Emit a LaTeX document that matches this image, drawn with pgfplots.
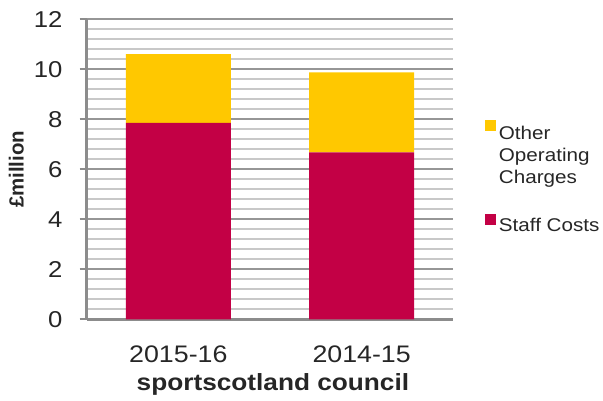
\documentclass[border=0pt]{standalone}
\usepackage{pgfplots}
\pgfplotsset{compat=1.18}
\usepackage{fontspec}
\setmainfont{Liberation Sans}[FakeStretch=1.12]
\newfontfamily\ylabfont{Liberation Sans}
\definecolor{barYellow}{RGB}{255,200,0}
\definecolor{barRed}{RGB}{195,0,69}
\definecolor{axGray}{RGB}{140,140,140}
\definecolor{majGray}{RGB}{150,150,150}
\definecolor{minGray}{RGB}{200,200,200}
\definecolor{txt}{RGB}{38,38,38}
\begin{document}
\begin{tikzpicture}
\useasboundingbox (-86.7bp,-81.7bp) rectangle (516.3bp,319.3bp);
\begin{axis}[
  at={(0,0)}, anchor=south west,
  scale only axis,
  width=366.6bp, height=300bp,
  ybar stacked,
  bar width=0.572,
  xmin=-0.5, xmax=1.5,
  ymin=0, ymax=12,
  xtick={0,1},
  xticklabels={2015-16,2014-15},
  ytick={0,2,4,6,8,10,12},
  minor y tick num=4,
  ymajorgrids, yminorgrids,
  major grid style={majGray, line width=1.8bp},
  minor grid style={minGray, line width=1.8bp},
  axis x line*=bottom,
  axis y line*=left,
  axis line style={axGray, line width=2.6bp},
  x axis line style={-},
  y axis line style={-},
  xtick style={draw=none},
  ytick style={axGray, line width=1.8bp},
  tick align=outside,
  major tick length=7bp,
  minor tick length=0pt,
  tick label style={text=txt},
  yticklabel style={font=\fontsize{23}{27}\selectfont, anchor=east, inner sep=0pt, xshift=-17bp},
  xticklabel style={font=\fontsize{24}{28}\selectfont, anchor=base, inner sep=0pt, yshift=-36bp},
  ylabel={\ylabfont\bfseries £million},
  ylabel style={at={(axis description cs:-0.192,0.5)}, anchor=center, font=\fontsize{20.5}{24}\selectfont, text=txt},
  xlabel={\bfseries sportscotland council},
  xlabel style={at={(axis description cs:0.508,0)}, anchor=base, yshift=-71bp, font=\fontsize{23.5}{28}\selectfont, text=txt},
  /pgf/number format/assume math mode=true,
  reverse legend,
  legend style={at={(axis description cs:1.086,0.663)}, anchor=north west, draw=none, fill=none,
    font=\fontsize{18.5}{22}\selectfont, text=txt, row sep=73bp, inner sep=0pt, outer sep=0pt,
    nodes={inner sep=0pt}},
  legend cell align=left,
]
\addplot[fill=barRed, draw=none, legend image code/.code={\fill[barRed] (0bp,1bp) rectangle (11bp,12bp);}]
  coordinates {(0,7.86) (1,6.68)};
\addlegendentry{\,Staff Costs}
\addplot[fill=barYellow, draw=none, legend image code/.code={\fill[barYellow] (0bp,1bp) rectangle (11bp,12bp);}]
  coordinates {(0,2.75) (1,3.20)};
\addlegendentry{\,\begin{tabular}[t]{@{}l@{}}Other\\Operating\\Charges\end{tabular}}
\end{axis}
\end{tikzpicture}
\end{document}
